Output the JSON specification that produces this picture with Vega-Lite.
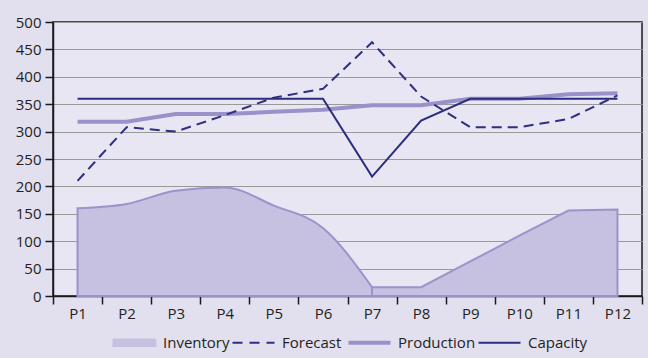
{
  "$schema": "https://vega.github.io/schema/vega-lite/v6.json",
  "width": 589,
  "height": 274,
  "autosize": "none",
  "padding": {"left": 53, "top": 22, "right": 6, "bottom": 62},
  "background": "#E2E0EF",
  "config": {
    "font": "Open Sans",
    "view": {"fill": "#E8E6F3", "stroke": "#1a1a1a", "strokeWidth": 1.5},
    "axis": {"labelFont": "Open Sans", "labelFontSize": 15, "labelColor": "#231F20", "domainColor": "#1a1a1a", "tickColor": "#1a1a1a", "domainWidth": 1.5, "tickWidth": 1.5}
  },
  "data": {
    "values": [
      {"period": "P1", "series": "Inventory", "value": 160},
      {"period": "P2", "series": "Inventory", "value": 168},
      {"period": "P3", "series": "Inventory", "value": 192},
      {"period": "P4", "series": "Inventory", "value": 198},
      {"period": "P5", "series": "Inventory", "value": 165},
      {"period": "P6", "series": "Inventory", "value": 124},
      {"period": "P7", "series": "Inventory", "value": 16},
      {"period": "P8", "series": "Inventory", "value": 16},
      {"period": "P9", "series": "Inventory", "value": 63},
      {"period": "P10", "series": "Inventory", "value": 110},
      {"period": "P11", "series": "Inventory", "value": 156},
      {"period": "P12", "series": "Inventory", "value": 158},
      {"period": "P1", "series": "Forecast", "value": 210},
      {"period": "P2", "series": "Forecast", "value": 308},
      {"period": "P3", "series": "Forecast", "value": 300},
      {"period": "P4", "series": "Forecast", "value": 330},
      {"period": "P5", "series": "Forecast", "value": 362},
      {"period": "P6", "series": "Forecast", "value": 378},
      {"period": "P7", "series": "Forecast", "value": 463},
      {"period": "P8", "series": "Forecast", "value": 364},
      {"period": "P9", "series": "Forecast", "value": 308},
      {"period": "P10", "series": "Forecast", "value": 308},
      {"period": "P11", "series": "Forecast", "value": 323},
      {"period": "P12", "series": "Forecast", "value": 366},
      {"period": "P1", "series": "Production", "value": 318},
      {"period": "P2", "series": "Production", "value": 318},
      {"period": "P3", "series": "Production", "value": 332},
      {"period": "P4", "series": "Production", "value": 332},
      {"period": "P5", "series": "Production", "value": 336},
      {"period": "P6", "series": "Production", "value": 340},
      {"period": "P7", "series": "Production", "value": 348},
      {"period": "P8", "series": "Production", "value": 348},
      {"period": "P9", "series": "Production", "value": 360},
      {"period": "P10", "series": "Production", "value": 360},
      {"period": "P11", "series": "Production", "value": 368},
      {"period": "P12", "series": "Production", "value": 370},
      {"period": "P1", "series": "Capacity", "value": 360},
      {"period": "P2", "series": "Capacity", "value": 360},
      {"period": "P3", "series": "Capacity", "value": 360},
      {"period": "P4", "series": "Capacity", "value": 360},
      {"period": "P5", "series": "Capacity", "value": 360},
      {"period": "P6", "series": "Capacity", "value": 360},
      {"period": "P7", "series": "Capacity", "value": 218},
      {"period": "P8", "series": "Capacity", "value": 320},
      {"period": "P9", "series": "Capacity", "value": 360},
      {"period": "P10", "series": "Capacity", "value": 360},
      {"period": "P11", "series": "Capacity", "value": 360},
      {"period": "P12", "series": "Capacity", "value": 360}
    ]
  },
  "encoding": {
    "x": {
      "field": "period", "type": "ordinal", "sort": null, "bandPosition": 0.5,
      "scale": {"type": "band", "paddingInner": 0, "paddingOuter": 0, "domain": ["P1","P2","P3","P4","P5","P6","P7","P8","P9","P10","P11","P12"]},
      "axis": {"title": null, "labelAngle": 0, "tickBand": "extent", "tickSize": 8, "labelPadding": 2, "grid": false}
    },
    "y": {
      "field": "value", "type": "quantitative",
      "scale": {"domain": [0, 500], "nice": false},
      "axis": {"title": null, "values": [0, 50, 100, 150, 200, 250, 300, 350, 400, 450, 500], "tickSize": 8, "labelPadding": 4, "grid": true, "gridColor": "#999999", "gridWidth": 1.2}
    },
    "color": {
      "field": "series", "type": "nominal",
      "scale": {"domain": ["Inventory", "Forecast", "Production", "Capacity"], "range": ["#C6C1E1", "#2E2F80", "#9A90CA", "#2B2D7E"]},
      "legend": {
        "orient": "none", "legendX": 61, "legendY": 313, "direction": "horizontal", "title": null,
        "symbolSize": 1764, "symbolOffset": 13, "labelFontSize": 15, "labelColor": "#231F20", "labelOffset": 21, "columnPadding": -2, "padding": 0,
        "encode": {
          "symbols": {
            "update": {
              "shape": {"signal": "datum.value === 'Inventory' ? 'M-1,-0.15H1V0.15H-1Z' : 'M-1,0H1'"},
              "fill": {"signal": "datum.value === 'Inventory' ? '#C6C1E1' : 'transparent'"},
              "stroke": {"signal": "datum.value === 'Inventory' ? '#9B93CB' : datum.value === 'Production' ? '#9A90CA' : '#2B2D7E'"},
              "strokeWidth": {"signal": "datum.value === 'Production' ? 4 : 2"},
              "strokeDash": {"signal": "datum.value === 'Forecast' ? [10, 7] : [1, 0]"},
              "opacity": {"value": 1}
            }
          }
        }
      }
    }
  },
  "layer": [
    {
      "transform": [{"filter": {"field": "series", "equal": "Inventory"}}, {"filter": {"field": "period", "oneOf": ["P1","P2","P3","P4","P5","P6","P7"]}}],
      "mark": {"type": "area", "interpolate": "monotone", "fill": "#C6C1E1", "stroke": "#9B93CB", "strokeWidth": 2, "opacity": 1, "fillOpacity": 1}
    },
    {
      "transform": [{"filter": {"field": "series", "equal": "Inventory"}}, {"filter": {"field": "period", "oneOf": ["P7","P8","P9","P10","P11","P12"]}}],
      "mark": {"type": "area", "interpolate": "linear", "fill": "#C6C1E1", "stroke": "#9B93CB", "strokeWidth": 2, "opacity": 1, "fillOpacity": 1}
    },
    {
      "transform": [{"filter": "datum.series === 'Production'"}],
      "mark": {"type": "line", "strokeWidth": 4}
    },
    {
      "transform": [{"filter": "datum.series === 'Forecast'"}],
      "mark": {"type": "line", "strokeWidth": 2, "strokeDash": [10, 6]}
    },
    {
      "transform": [{"filter": "datum.series === 'Capacity'"}],
      "mark": {"type": "line", "strokeWidth": 2}
    }
  ]
}
